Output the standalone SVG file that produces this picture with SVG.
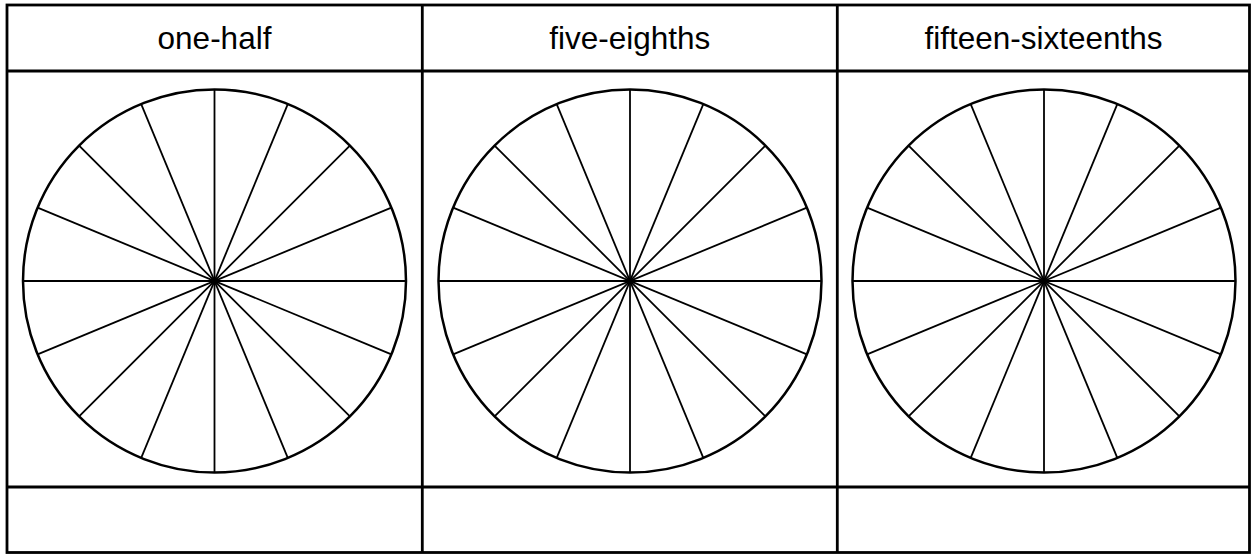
<svg xmlns="http://www.w3.org/2000/svg" width="1251" height="554" viewBox="0 0 1251 554">
<defs>
<style>
.grid{fill:none;stroke:#000;stroke-width:2.8}
.rim{fill:none;stroke:#000;stroke-width:2.5}
.spoke{stroke:#000;stroke-width:1.8}
.lbl{font-family:"Liberation Sans",Arial,sans-serif;font-size:31.5px;fill:#000;text-anchor:middle}
</style>
<g id="wheel">
<circle cx="0" cy="0" r="191.5" class="rim"/>
<g class="spoke">
<line x1="-191.5" y1="0" x2="191.5" y2="0"/>
<line x1="0" y1="-191.5" x2="0" y2="191.5"/>
<line x1="-176.9" y1="-73.3" x2="176.9" y2="73.3"/>
<line x1="-135.4" y1="-135.4" x2="135.4" y2="135.4"/>
<line x1="-73.3" y1="-176.9" x2="73.3" y2="176.9"/>
<line x1="73.3" y1="-176.9" x2="-73.3" y2="176.9"/>
<line x1="135.4" y1="-135.4" x2="-135.4" y2="135.4"/>
<line x1="176.9" y1="-73.3" x2="-176.9" y2="73.3"/>
</g>
</g>
</defs>
<rect width="1251" height="554" fill="#fff"/>
<g id="table" class="grid">
<rect x="7" y="5" width="1242.5" height="547.5"/>
<line x1="7" y1="71" x2="1249.5" y2="71"/>
<line x1="7" y1="487" x2="1249.5" y2="487"/>
<line x1="422.3" y1="5" x2="422.3" y2="552.5"/>
<line x1="837.3" y1="5" x2="837.3" y2="552.5"/>
</g>
<g id="col1">
<text class="lbl" x="214.5" y="49">one-half</text>
<use href="#wheel" x="214.5" y="281"/>
</g>
<g id="col2">
<text class="lbl" x="629.8" y="49">five-eighths</text>
<use href="#wheel" x="630" y="281"/>
</g>
<g id="col3">
<text class="lbl" x="1043.5" y="49">fifteen-sixteenths</text>
<use href="#wheel" x="1044" y="281"/>
</g>
</svg>
